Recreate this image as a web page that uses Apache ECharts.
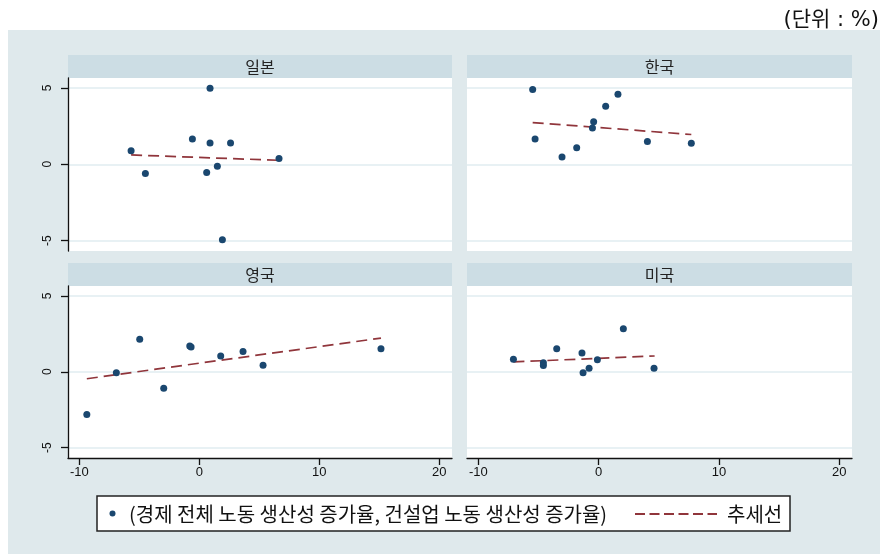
<!DOCTYPE html>
<html>
<head>
<meta charset="utf-8">
<script src="https://cdn.jsdelivr.net/npm/echarts@6/dist/echarts.min.js"></script>
<style>
html, body { margin: 0; padding: 0; background: #fff; }
#main { width: 880px; height: 554px; }
</style>
</head>
<body>
<div id="main"></div>
<script>
// panel titles
var panelNames = ['일본', '한국', '영국', '미국'];

// (economy-wide labour productivity growth, construction labour productivity growth)
var japanPts = [[-5.69, 0.88], [-4.5, -0.61], [-0.58, 1.66], [0.89, 4.98], [0.89, 1.40],
    [2.6, 1.40], [0.61, -0.54], [1.5, -0.13], [1.92, -4.95], [6.64, 0.37]];
var koreaPts = [[-5.49, 4.89], [-5.29, 1.66], [-3.05, 0.48], [-1.83, 1.09], [-0.52, 2.38],
    [-0.42, 2.78], [0.58, 3.80], [1.6, 4.58], [4.05, 1.49], [7.7, 1.38]];
var ukPts = [[-9.38, -2.81], [-6.92, -0.07], [-4.97, 2.15], [-2.97, -1.09], [-0.8, 1.70],
    [-0.69, 1.63], [1.78, 1.04], [3.64, 1.34], [5.31, 0.43], [15.14, 1.52]];
var usPts = [[-7.09, 0.82], [-4.6, 0.59], [-4.6, 0.41], [-3.49, 1.52], [-1.39, 1.24],
    [-1.3, -0.07], [-0.8, 0.24], [-0.11, 0.80], [2.05, 2.83], [4.6, 0.24]];

// trend line end points
var japanTrend = [[-5.69, 0.61], [6.64, 0.26]];
var koreaTrend = [[-5.49, 2.73], [7.7, 1.95]];
var ukTrend = [[-9.38, -0.46], [15.14, 2.22]];
var usTrend = [[-7.09, 0.65], [4.65, 1.04]];

var xTicks = [-10, 0, 10, 20];
var yTicks = [-5, 0, 5];

var pointSets = [japanPts, koreaPts, ukPts, usPts];
var trendSets = [japanTrend, koreaTrend, ukTrend, usTrend];

var numFont = 'Liberation Sans';
var korFont = 'Noto Sans CJK KR';

var grids = [
    { left: 68, top: 78, width: 384, height: 173 },
    { left: 467, top: 78, width: 385, height: 173 },
    { left: 68, top: 286, width: 384, height: 172 },
    { left: 467, top: 286, width: 385, height: 172 }
];

var xAxes = [], yAxes = [], series = [], graphics = [];

// background
graphics.push({
    type: 'rect', z: -100,
    shape: { x: 8, y: 30, width: 872, height: 524 },
    style: { fill: '#dfe9ec' }
});

for (var i = 0; i < 4; i++) {
    var g = grids[i];
    g.show = true;
    g.backgroundColor = '#fff';
    g.borderWidth = 0;
    var bottomRow = i >= 2;
    var leftCol = i % 2 === 0;

    xAxes.push({
        gridIndex: i,
        type: 'value',
        min: -10.95,
        max: 21.06,
        axisLine: { show: bottomRow, onZero: false, lineStyle: { color: '#111', width: 1.3 } },
        axisTick: { show: bottomRow, length: 7, customValues: xTicks, lineStyle: { color: '#111', width: 1.3 } },
        axisLabel: { show: bottomRow, customValues: xTicks, margin: 8, color: '#111', fontSize: 13, fontFamily: numFont },
        splitLine: { show: false }
    });
    yAxes.push({
        gridIndex: i,
        type: 'value',
        min: -5.68,
        max: 5.65,
        axisLine: { show: leftCol, onZero: false, lineStyle: { color: '#111', width: 1.3 } },
        axisTick: { show: leftCol, length: 7, customValues: yTicks, lineStyle: { color: '#111', width: 1.3 } },
        axisLabel: { show: leftCol, customValues: yTicks, rotate: 90, margin: 14, color: '#111', fontSize: 12, fontFamily: numFont },
        splitLine: { show: true, lineStyle: { color: '#e1ecf0', width: 1.5 } }
    });

    series.push({
        type: 'scatter',
        xAxisIndex: i,
        yAxisIndex: i,
        data: pointSets[i],
        symbol: 'circle',
        symbolSize: 7,
        itemStyle: { color: '#1a476f', opacity: 1 },
        z: 3
    });
    series.push({
        type: 'line',
        xAxisIndex: i,
        yAxisIndex: i,
        data: trendSets[i],
        symbol: 'none',
        lineStyle: { color: '#90353b', width: 1.7, type: [11, 6] },
        z: 2
    });

    // panel header strip
    graphics.push({
        type: 'rect',
        shape: { x: g.left, y: g.top - 23, width: g.width, height: 23 },
        style: { fill: '#ccdde4' }
    });
    graphics.push({
        type: 'text',
        x: g.left + g.width / 2,
        y: g.top - 11.5,
        style: {
            text: panelNames[i], fill: '#222', font: '16px "' + korFont + '"',
            align: 'center', verticalAlign: 'middle'
        }
    });
}

// unit note
graphics.push({
    type: 'text', x: 879, y: 21,
    style: { text: '(단위 : %)', fill: '#111', font: '21px "DejaVu Sans", "' + korFont + '"', align: 'right', verticalAlign: 'middle' }
});

// legend box
graphics.push({
    type: 'rect',
    shape: { x: 97, y: 496, width: 693, height: 35 },
    style: { fill: '#fff', stroke: '#222', lineWidth: 1.5 }
});
graphics.push({
    type: 'circle',
    shape: { cx: 112.5, cy: 513.5, r: 3 },
    style: { fill: '#1a476f' }
});
graphics.push({
    type: 'text', x: 129, y: 514,
    style: { text: '(경제 전체 노동 생산성 증가율, 건설업 노동 생산성 증가율)', fill: '#111', font: '20px "' + korFont + '"', align: 'left', verticalAlign: 'middle' }
});
graphics.push({
    type: 'line',
    shape: { x1: 635, y1: 514, x2: 717, y2: 514 },
    style: { stroke: '#90353b', lineWidth: 1.8, lineDash: [10, 4.5] }
});
graphics.push({
    type: 'text', x: 727, y: 514,
    style: { text: '추세선', fill: '#111', font: '20px "' + korFont + '"', align: 'left', verticalAlign: 'middle' }
});

var chart = echarts.init(document.getElementById('main'), null, { renderer: 'canvas' });
chart.setOption({
    animation: false,
    backgroundColor: '#fff',
    grid: grids,
    xAxis: xAxes,
    yAxis: yAxes,
    series: series,
    graphic: { elements: graphics }
});
</script>
</body>
</html>
